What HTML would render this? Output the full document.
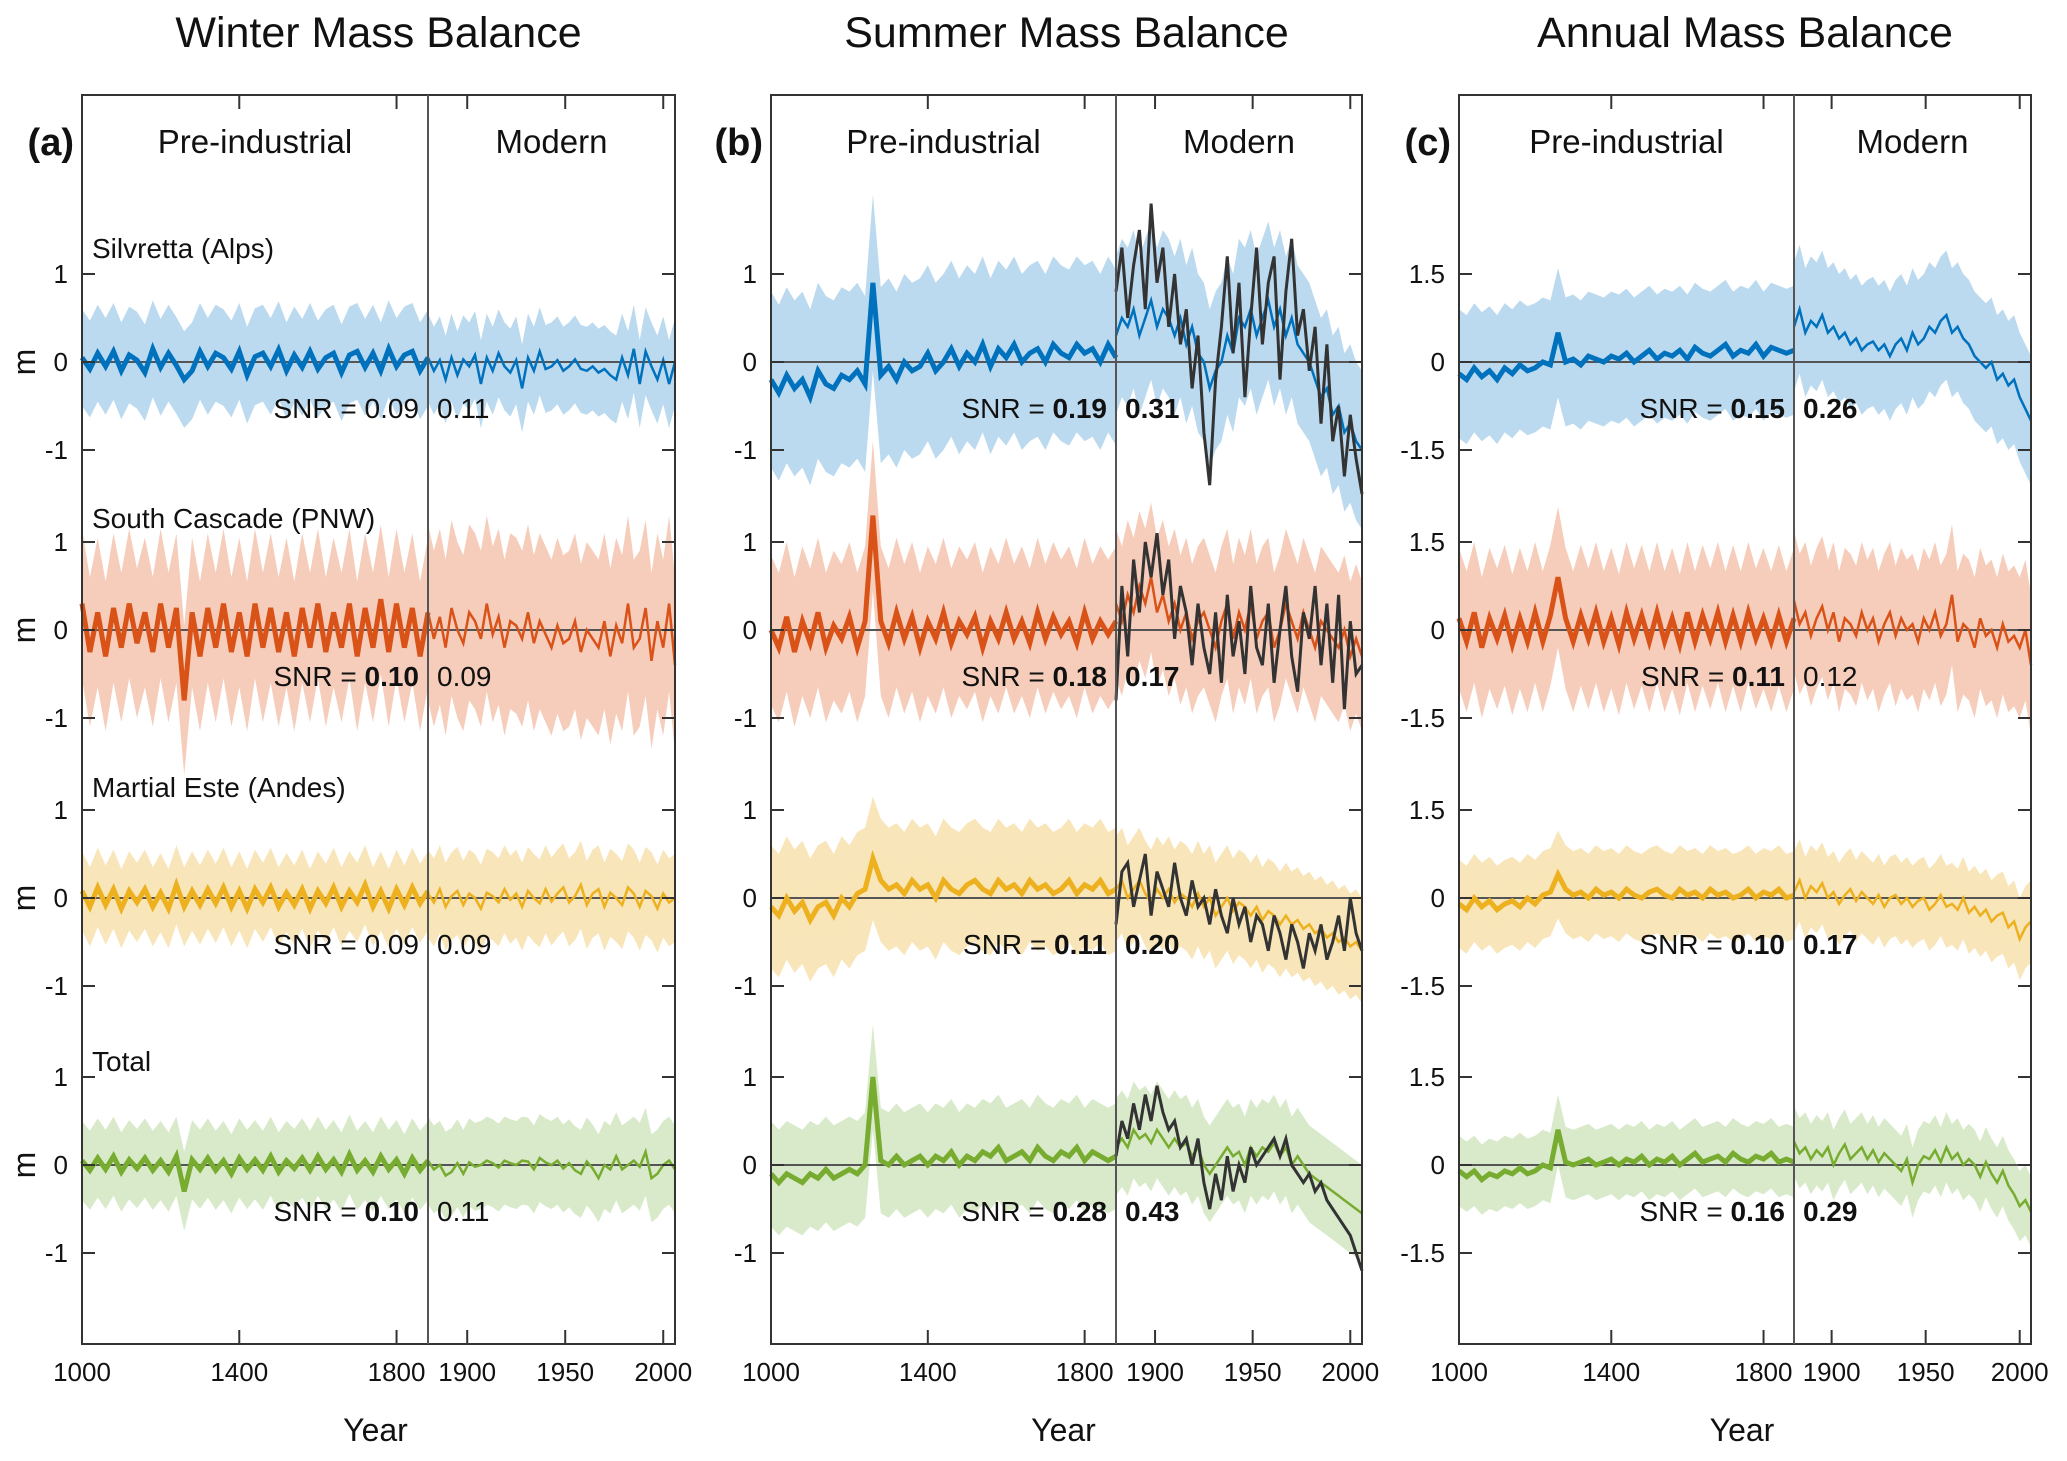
<!DOCTYPE html>
<html><head><meta charset="utf-8"><style>
body{margin:0;background:#fff}
svg{display:block;font-family:"Liberation Sans",sans-serif}
</style></head><body>
<svg id="fig" width="2067" height="1461" viewBox="0 0 2067 1461"></svg>
<script>
// ---- data: pre-industrial series sampled every 20 yr (1000-1880), modern every 3 yr (1880-2006)
const preStart=1000, preStep=20, modStart=1880, modStep=3;
const rowNames=["Silvretta (Alps)","South Cascade (PNW)","Martial Este (Andes)","Total"];
const panelTitles=["Winter Mass Balance","Summer Mass Balance","Annual Mass Balance"];
const panelLetters=["(a)","(b)","(c)"];
const yTickA=[-1,0,1], yTickC=[-1.5,0,1.5];
const xTicksPre=[1000,1400,1800], xTicksMod=[1900,1950,2000];
// winter
const wSilPre=[0.05,-0.08,0.1,-0.05,0.12,-0.1,0.08,0.02,-0.12,0.15,-0.06,0.1,-0.04,-0.2,-0.1,0.12,-0.05,0.1,0.05,-0.08,0.12,-0.15,0.06,0.1,-0.05,0.14,-0.1,0.08,-0.06,0.12,-0.08,0.05,0.1,-0.12,0.08,0.12,-0.06,0.1,-0.1,0.15,-0.05,0.08,0.12,-0.1,0.05];
const wSilMod=[0.05,-0.1,0.02,-0.2,0.05,-0.15,0.03,-0.05,0.08,-0.25,0.05,-0.1,0.1,-0.05,-0.12,0.02,-0.3,0.05,-0.1,0.12,-0.08,-0.05,0.02,-0.1,-0.05,0.03,-0.08,-0.1,-0.05,-0.12,-0.08,-0.15,-0.2,0.05,-0.15,0.15,-0.25,0.12,-0.05,-0.2,0.02,-0.25,0.0];
const wCasPre=[0.3,-0.25,0.2,-0.3,0.25,-0.2,0.3,-0.15,0.2,-0.25,0.3,-0.2,0.25,-0.8,0.2,-0.3,0.25,-0.2,0.3,-0.25,0.2,-0.3,0.3,-0.2,0.25,-0.25,0.2,-0.3,0.25,-0.2,0.3,-0.25,0.2,-0.2,0.3,-0.3,0.25,-0.2,0.35,-0.25,0.3,-0.2,0.25,-0.3,0.2];
const wCasMod=[0.2,-0.1,0.15,-0.2,0.25,0.0,-0.15,0.2,0.1,-0.1,0.3,-0.05,0.15,-0.2,0.1,0.05,-0.1,0.2,-0.15,0.1,-0.05,-0.2,0.05,-0.15,-0.1,0.1,-0.25,0.0,-0.1,-0.2,0.1,-0.3,0.05,-0.15,0.3,-0.2,-0.1,0.25,-0.35,0.1,-0.2,0.3,-0.4];
const wMarPre=[0.08,-0.1,0.12,-0.08,0.1,-0.12,0.08,-0.05,0.1,-0.1,0.06,-0.12,0.15,-0.1,0.08,-0.08,0.1,-0.06,0.12,-0.1,0.08,-0.12,0.1,-0.05,0.12,-0.1,0.06,-0.08,0.1,-0.12,0.08,-0.06,0.12,-0.1,0.08,-0.05,0.15,-0.1,0.08,-0.12,0.1,-0.08,0.12,-0.06,0.08];
const wMarMod=[0.05,-0.05,0.1,-0.1,0.02,0.08,-0.08,0.05,0.0,-0.12,0.06,0.02,-0.05,0.1,-0.02,0.05,-0.1,0.08,0.0,-0.06,0.1,-0.04,0.05,0.12,-0.05,0.02,0.15,-0.08,0.05,0.1,-0.1,0.06,0.0,-0.08,0.12,0.05,-0.1,0.08,0.02,-0.12,0.05,-0.05,0.0];
const wTotPre=[0.05,-0.06,0.08,-0.05,0.1,-0.08,0.06,-0.04,0.08,-0.06,0.05,-0.08,0.1,-0.3,0.06,-0.05,0.08,-0.06,0.05,-0.1,0.08,-0.05,0.06,-0.06,0.1,-0.08,0.05,-0.04,0.08,-0.06,0.1,-0.05,0.06,-0.08,0.12,-0.06,0.05,-0.08,0.1,-0.05,0.06,-0.1,0.08,-0.06,0.05];
const wTotMod=[0.05,-0.05,0.0,-0.12,-0.08,0.02,-0.1,0.03,-0.02,0.0,0.05,0.02,-0.03,0.05,0.02,0.0,0.05,0.04,-0.05,0.08,0.03,0.0,0.05,-0.04,0.02,-0.06,-0.1,0.04,-0.04,-0.15,0.0,-0.05,0.1,-0.05,0.0,0.05,-0.02,0.15,-0.15,-0.1,0.0,0.05,-0.05];
// summer
const sSilPre=[-0.2,-0.35,-0.15,-0.3,-0.2,-0.4,-0.1,-0.25,-0.3,-0.15,-0.2,-0.1,-0.25,0.9,-0.15,-0.05,-0.2,0.0,-0.1,-0.05,0.1,-0.1,0.0,0.15,-0.05,0.1,0.0,0.2,-0.05,0.15,0.05,0.2,0.0,0.1,0.15,0.0,0.2,0.1,0.05,0.2,0.1,0.15,0.0,0.2,0.05];
const sSilMod=[0.3,0.5,0.4,0.6,0.3,0.5,0.7,0.4,0.6,0.5,0.3,0.5,0.2,0.4,0.1,0.0,-0.3,-0.1,0.0,0.3,0.1,0.5,0.4,0.6,0.3,0.5,0.7,0.4,0.6,0.3,0.5,0.2,0.1,0.0,-0.2,-0.4,-0.3,-0.6,-0.5,-0.8,-0.7,-0.9,-1.0];
const sSilObs=[0.8,1.3,0.5,1.1,1.5,0.6,1.8,0.9,1.3,0.4,1.0,0.2,0.6,-0.3,0.3,-0.8,-1.4,-0.2,0.4,1.2,0.1,0.9,-0.4,0.5,1.3,0.2,0.9,1.2,-0.2,0.8,1.4,0.3,0.6,-0.1,0.4,-0.7,0.2,-0.9,-0.5,-1.3,-0.6,-1.1,-1.5];
const sCasPre=[0.0,-0.2,0.15,-0.25,0.1,-0.15,0.2,-0.2,0.05,-0.1,0.15,-0.2,0.1,1.3,0.1,-0.15,0.2,-0.1,0.15,-0.2,0.1,-0.1,0.2,-0.15,0.1,-0.05,0.15,-0.2,0.1,-0.1,0.2,-0.1,0.1,-0.15,0.2,-0.1,0.15,-0.05,0.1,-0.15,0.2,-0.1,0.1,-0.05,0.1];
const sCasMod=[0.3,0.1,0.4,0.2,0.5,0.3,0.6,0.2,0.4,0.1,0.3,0.0,0.2,-0.1,0.1,0.2,0.0,-0.2,0.1,0.3,-0.1,0.2,0.0,0.3,-0.1,0.1,0.2,-0.2,0.0,0.3,0.1,-0.1,0.2,0.0,-0.2,0.1,0.0,-0.1,-0.2,0.0,-0.3,-0.1,-0.3];
const sCasObs=[-0.8,0.5,-0.3,0.8,0.2,1.0,0.6,1.1,0.4,0.8,-0.1,0.5,0.2,-0.4,0.3,-0.2,-0.5,0.2,-0.6,0.4,-0.3,0.1,-0.5,0.5,-0.2,-0.4,0.3,-0.6,0.0,0.5,-0.3,-0.7,0.2,-0.1,0.5,-0.4,0.3,-0.6,0.4,-0.9,0.1,-0.5,-0.4];
const sMarPre=[-0.1,-0.2,0.0,-0.15,-0.05,-0.25,-0.1,-0.05,-0.2,0.0,-0.1,0.05,0.1,0.45,0.2,0.1,0.15,0.05,0.2,0.1,0.15,0.0,0.2,0.1,0.05,0.15,0.2,0.1,0.05,0.2,0.1,0.15,0.05,0.2,0.1,0.15,0.05,0.1,0.2,0.05,0.15,0.1,0.2,0.05,0.1];
const sMarMod=[0.1,0.2,0.0,0.1,0.2,0.05,-0.05,0.1,0.0,0.1,-0.05,0.05,0.0,-0.1,0.05,-0.1,0.0,-0.2,-0.1,0.0,-0.15,-0.05,-0.1,-0.2,-0.1,-0.25,-0.15,-0.2,-0.3,-0.2,-0.3,-0.25,-0.35,-0.3,-0.4,-0.35,-0.45,-0.4,-0.5,-0.45,-0.55,-0.5,-0.6];
const sMarObs=[-0.3,0.3,0.4,-0.1,0.2,0.5,-0.2,0.3,0.1,-0.1,0.4,0.0,-0.2,0.2,-0.1,0.0,-0.3,0.1,-0.2,-0.4,0.0,-0.3,-0.1,-0.5,-0.2,-0.3,-0.6,-0.2,-0.4,-0.7,-0.3,-0.5,-0.8,-0.4,-0.6,-0.3,-0.7,-0.5,-0.2,-0.6,0.0,-0.4,-0.6];
const sTotPre=[-0.1,-0.2,-0.1,-0.15,-0.2,-0.1,-0.15,-0.05,-0.15,-0.1,-0.05,-0.1,0.0,1.0,0.05,0.0,0.1,0.0,0.05,0.1,0.0,0.1,0.05,0.15,0.0,0.1,0.05,0.15,0.1,0.2,0.05,0.1,0.15,0.05,0.2,0.1,0.05,0.15,0.1,0.2,0.05,0.15,0.1,0.05,0.1];
const sTotMod=[0.2,0.3,0.2,0.4,0.3,0.35,0.25,0.4,0.3,0.2,0.3,0.2,0.25,0.1,0.2,0.0,-0.1,0.0,0.1,0.2,0.1,0.15,0.0,0.2,0.1,0.2,0.15,0.25,0.1,0.2,0.0,0.1,0.0,-0.1,-0.15,-0.2,-0.25,-0.3,-0.35,-0.4,-0.45,-0.5,-0.55];
const sTotObs=[0.1,0.5,0.3,0.7,0.4,0.8,0.5,0.9,0.6,0.4,0.5,0.2,0.3,0.0,0.3,-0.2,-0.5,-0.1,-0.4,0.1,-0.3,0.0,-0.2,0.2,0.0,0.1,0.2,0.3,0.1,0.3,0.0,-0.1,-0.2,-0.1,-0.3,-0.2,-0.4,-0.5,-0.6,-0.7,-0.8,-1.0,-1.2];
// annual
const aSilPre=[-0.2,-0.3,-0.1,-0.25,-0.15,-0.3,-0.1,-0.2,-0.05,-0.15,-0.1,0.0,-0.05,0.5,0.0,0.05,-0.05,0.1,0.05,0.0,0.1,0.05,0.15,0.0,0.1,0.2,0.05,0.15,0.1,0.2,0.05,0.25,0.15,0.1,0.2,0.3,0.1,0.2,0.15,0.3,0.1,0.25,0.2,0.15,0.2];
const aSilMod=[0.6,0.9,0.5,0.7,0.6,0.8,0.5,0.6,0.4,0.5,0.3,0.4,0.2,0.3,0.35,0.2,0.3,0.1,0.3,0.4,0.2,0.5,0.3,0.4,0.6,0.5,0.7,0.8,0.5,0.6,0.4,0.3,0.1,0.0,-0.1,0.0,-0.3,-0.2,-0.4,-0.3,-0.6,-0.8,-1.0];
const aCasPre=[0.2,-0.2,0.3,-0.3,0.2,-0.15,0.25,-0.25,0.2,-0.2,0.3,-0.2,0.25,0.9,0.2,-0.2,0.25,-0.15,0.3,-0.2,0.2,-0.25,0.3,-0.15,0.25,-0.2,0.3,-0.2,0.2,-0.25,0.3,-0.2,0.25,-0.15,0.3,-0.2,0.25,-0.2,0.3,-0.15,0.2,-0.2,0.25,-0.2,0.2];
const aCasMod=[0.5,0.1,0.3,-0.1,0.2,0.4,0.0,0.3,-0.2,0.2,0.1,-0.1,0.3,0.0,0.2,-0.2,0.1,0.3,-0.1,0.2,0.0,0.1,-0.2,0.2,0.0,0.3,-0.1,0.1,0.6,-0.2,0.1,0.0,-0.3,0.2,-0.1,0.0,-0.3,0.1,-0.2,-0.1,-0.3,0.0,-0.6];
const aMarPre=[-0.1,-0.2,0.0,-0.15,-0.05,-0.2,-0.1,-0.05,-0.15,0.0,-0.1,0.05,0.1,0.4,0.15,0.05,0.1,0.0,0.15,0.05,0.1,0.0,0.15,0.05,0.0,0.1,0.15,0.05,0.0,0.15,0.05,0.1,0.0,0.15,0.05,0.1,0.0,0.05,0.15,0.0,0.1,0.05,0.15,0.0,0.05];
const aMarMod=[0.1,0.3,0.0,0.2,0.1,0.25,0.0,0.1,-0.1,0.05,0.15,-0.05,0.1,0.0,-0.1,0.05,-0.15,0.0,0.05,-0.1,0.0,-0.15,-0.05,0.0,-0.2,-0.1,0.05,-0.15,-0.1,-0.2,0.0,-0.25,-0.15,-0.3,-0.2,-0.4,-0.3,-0.25,-0.5,-0.4,-0.7,-0.5,-0.4];
const aTotPre=[-0.1,-0.2,-0.1,-0.25,-0.15,-0.2,-0.1,-0.15,-0.05,-0.15,-0.1,0.0,-0.05,0.6,0.05,0.0,0.05,0.1,0.0,0.05,0.1,0.0,0.1,0.05,0.15,0.0,0.1,0.05,0.15,0.0,0.1,0.2,0.05,0.1,0.15,0.05,0.2,0.1,0.05,0.15,0.1,0.2,0.05,0.1,0.05];
const aTotMod=[0.4,0.2,0.3,0.1,0.25,0.15,0.3,0.0,0.2,0.35,0.1,0.2,0.3,0.1,0.25,0.05,0.2,0.1,0.0,-0.1,0.1,-0.3,0.0,0.15,0.1,0.25,0.05,0.3,0.1,0.2,0.0,0.1,0.0,-0.2,0.05,-0.15,-0.3,-0.1,-0.35,-0.5,-0.7,-0.6,-0.8];
// band half-widths [pre, modern] (m)
const wBand=[[0.55,0.5],[0.85,1.0],[0.45,0.5],[0.45,0.5]];
const sBand=[[1.0,0.9],[0.85,0.85],[0.7,0.6],[0.6,0.55]];
const aBand=[[1.1,1.1],[1.2,1.2],[0.75,0.7],[0.6,0.6]];
const snrPre=[["0.09","0.10","0.09","0.10"],["0.19","0.18","0.11","0.28"],["0.15","0.11","0.10","0.16"]];
const snrMod=[["0.11","0.09","0.09","0.11"],["0.31","0.17","0.20","0.43"],["0.26","0.12","0.17","0.29"]];
const snrPreBold=[[0,1,0,1],[1,1,1,1],[1,1,1,1]];
const snrModBold=[[0,0,0,0],[1,1,1,1],[1,0,1,1]];

const panels=[{L:82,R:675,D:428},{L:771,R:1362,D:1116},{L:1459,R:2031,D:1794}];
const TOP=95,BOT=1344,ZERO=[362,630,898,1165],UNITPX=88;
const lineCol=["#0072bd","#d95319","#edb120","#77ac30"];
const bandCol=["#bcdaef","#f6cdbb","#f8e5b9","#d9eacb"];
const svg=document.getElementById('fig');
const NS="http://www.w3.org/2000/svg";
function mk(tag,attrs,parent){const e=document.createElementNS(NS,tag);for(const k in attrs)e.setAttribute(k,attrs[k]);(parent||svg).appendChild(e);return e;}
function xS(p,yr){return yr<=1880? p.L+(yr-1000)/880*(p.D-p.L) : p.D+(yr-1880)/126*(p.R-p.D);}
function yS(r,v,unit){return ZERO[r]-v*UNITPX/unit;}
function pts(p,r,arr,start,step,unit,off){return arr.map((v,i)=>xS(p,start+i*step).toFixed(1)+","+yS(r,v+off,unit).toFixed(1));}
const series=[[[wSilPre,wSilMod],[wCasPre,wCasMod],[wMarPre,wMarMod],[wTotPre,wTotMod]],
 [[sSilPre,sSilMod],[sCasPre,sCasMod],[sMarPre,sMarMod],[sTotPre,sTotMod]],
 [[aSilPre,aSilMod],[aCasPre,aCasMod],[aMarPre,aMarMod],[aTotPre,aTotMod]]];
const obs=[null,[sSilObs,sCasObs,sMarObs,sTotObs],null];
const bands=[wBand,sBand,aBand];

panels.forEach((p,pi)=>{
  const unit=pi===2?1.5:1;
  const t=mk('text',{x:(p.L+p.R)/2,y:47,'text-anchor':'middle','font-size':43,fill:'#111'});
  t.textContent=panelTitles[pi];
  
  
  const lt=mk('text',{x:p.L-8,y:155,'text-anchor':'end','font-size':38,'font-weight':'bold',fill:'#111'});
  lt.textContent=panelLetters[pi];
  
  
  for(let r=0;r<4;r++){
    const [pre,mod]=series[pi][r];const bw=bands[pi][r];
    [1,0.45].forEach((f,k)=>{
      const up=pts(p,r,pre,preStart,preStep,unit,bw[0]*f).concat(pts(p,r,mod,modStart,modStep,unit,bw[1]*f));
      const lo=pts(p,r,pre,preStart,preStep,unit,-bw[0]*f).concat(pts(p,r,mod,modStart,modStep,unit,-bw[1]*f));
      const b=mk('polygon',{points:up.concat(lo.reverse()).join(' '),fill:bandCol[r],opacity:k?0.45:1});
      
      
    });
    const z=mk('line',{x1:p.L,x2:p.R,y1:ZERO[r],y2:ZERO[r],stroke:'#555','stroke-width':2});
    
    
    const l1=mk('polyline',{points:pts(p,r,pre,preStart,preStep,unit,0).join(' '),fill:'none',stroke:lineCol[r],'stroke-width':5});
    
    
    const l2=mk('polyline',{points:pts(p,r,mod,modStart,modStep,unit,0).join(' '),fill:'none',stroke:lineCol[r],'stroke-width':2.5});
    
    
    if(obs[pi]){
      const o=mk('polyline',{points:pts(p,r,obs[pi][r],modStart,modStep,unit,0).join(' '),fill:'none',stroke:'#333','stroke-width':3});
      
      
    }
    (pi===2?yTickC:yTickA).forEach(v=>{
      const y=yS(r,v,unit);
      mk('line',{x1:p.L,x2:p.L+13,y1:y,y2:y,stroke:'#333','stroke-width':2});
      mk('line',{x1:p.R-13,x2:p.R,y1:y,y2:y,stroke:'#333','stroke-width':2});
      const tl=mk('text',{x:p.L-14,y:y+9,'text-anchor':'end','font-size':26,fill:'#111'});
      tl.textContent=String(v);
      
      
    });
    const s1=mk('text',{x:p.D-9,y:ZERO[r]+56,'text-anchor':'end','font-size':28,fill:'#111'});
    
    
    s1.innerHTML='SNR = '+(snrPreBold[pi][r]?'<tspan font-weight="bold">'+snrPre[pi][r]+'</tspan>':snrPre[pi][r]);
    const s2=mk('text',{x:p.D+9,y:ZERO[r]+56,'font-size':28,fill:'#111','font-weight':snrModBold[pi][r]?'bold':'normal'});
    s2.textContent=snrMod[pi][r];
    
    
    if(pi===0){
      const rn=mk('text',{x:92,y:[258,528,797,1071][r],'font-size':28,fill:'#111'});
      rn.textContent=rowNames[r];
      
      
      const m=mk('text',{x:35,y:ZERO[r],'text-anchor':'middle','font-size':32,fill:'#111',transform:'rotate(-90 35 '+ZERO[r]+')'});
      m.textContent='m';
      
      
    }
  }
  const f=mk('rect',{x:p.L,y:TOP,width:p.R-p.L,height:BOT-TOP,fill:'none',stroke:'#333','stroke-width':2});
  
  
  const dv=mk('line',{x1:p.D,x2:p.D,y1:TOP,y2:BOT,stroke:'#555','stroke-width':2});
  
  
  const h1=mk('text',{x:(p.L+p.D)/2,y:153,'text-anchor':'middle','font-size':33,fill:'#111'});
  h1.textContent='Pre-industrial';
  
  
  const h2=mk('text',{x:(p.D+p.R)/2,y:153,'text-anchor':'middle','font-size':33,fill:'#111'});
  h2.textContent='Modern';
  
  
  xTicksPre.concat(xTicksMod).forEach(yr=>{
    const x=xS(p,yr);
    mk('line',{x1:x,x2:x,y1:BOT,y2:BOT-14,stroke:'#333','stroke-width':2});
    mk('line',{x1:x,x2:x,y1:TOP,y2:TOP+14,stroke:'#333','stroke-width':2});
    const tl=mk('text',{x:x,y:1381,'text-anchor':'middle','font-size':26,fill:'#111'});
    tl.textContent=String(yr);
    
    
  });
  const xt=mk('text',{x:(p.L+p.R)/2-3,y:1441,'text-anchor':'middle','font-size':32,fill:'#111'});
  xt.textContent='Year';
  
  
});
</script>
</body></html>
